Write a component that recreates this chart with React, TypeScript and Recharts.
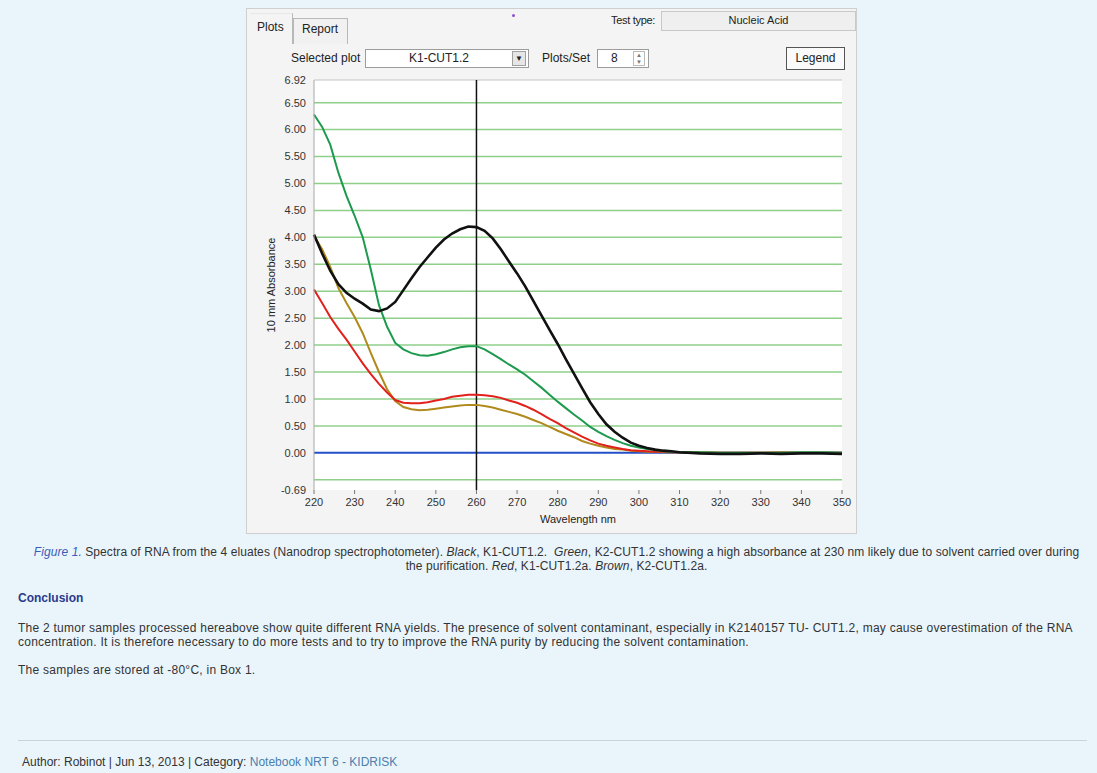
import React from 'react'
import {CartesianGrid, Line, LineChart, ReferenceLine, XAxis, YAxis} from 'recharts'

// Nanodrop spectra, absorbance per wavelength (nm)
const wavelengths = [
    220, 222, 224, 226, 228, 230, 232, 234, 236, 238, 240, 242, 244, 246, 248, 250,
    252, 254, 256, 258, 260, 262, 264, 266, 268, 270, 272, 274, 276, 278, 280, 282,
    284, 286, 288, 290, 292, 294, 296, 298, 300, 302, 304, 306, 308, 310,
    315, 320, 325, 330, 335, 340, 345, 350,
]
const k1Cut = [
    4.05, 3.70, 3.38, 3.13, 2.97, 2.86, 2.77, 2.66, 2.63, 2.68, 2.80, 3.02, 3.24, 3.45, 3.63, 3.81,
    3.96, 4.07, 4.15, 4.20, 4.19, 4.12, 3.98, 3.78, 3.55, 3.33, 3.09, 2.82, 2.55, 2.28, 2.02, 1.74,
    1.47, 1.20, 0.94, 0.72, 0.53, 0.39, 0.28, 0.19, 0.13, 0.09, 0.06, 0.04, 0.03, 0.01,
    -0.01, -0.02, -0.02, -0.01, -0.02, -0.01, -0.01, -0.02,
]
const k2Cut = [
    6.28, 6.05, 5.72, 5.20, 4.77, 4.40, 4.00, 3.40, 2.74, 2.34, 2.04, 1.92, 1.85, 1.81, 1.80, 1.83,
    1.87, 1.92, 1.96, 1.98, 1.98, 1.92, 1.83, 1.74, 1.64, 1.55, 1.45, 1.33, 1.21, 1.08, 0.95, 0.83,
    0.71, 0.60, 0.48, 0.39, 0.31, 0.24, 0.18, 0.13, 0.10, 0.07, 0.05, 0.03, 0.02, 0.01,
    0.01, 0.00, 0.00, 0.00, 0.00, 0.01, 0.01, 0.00,
]
const k1CutA = [
    3.03, 2.78, 2.52, 2.30, 2.10, 1.88, 1.66, 1.46, 1.28, 1.12, 0.98, 0.93, 0.92, 0.92, 0.94, 0.97,
    1.00, 1.04, 1.06, 1.08, 1.08, 1.07, 1.05, 1.02, 0.97, 0.93, 0.87, 0.80, 0.72, 0.63, 0.55, 0.46,
    0.38, 0.30, 0.23, 0.17, 0.13, 0.10, 0.07, 0.05, 0.04, 0.03, 0.02, 0.02, 0.01, 0.01,
    0.00, 0.00, 0.00, 0.00, 0.00, 0.00, 0.00, 0.00,
]
const k2CutA = [
    4.03, 3.78, 3.45, 3.06, 2.78, 2.52, 2.22, 1.85, 1.50, 1.18, 0.96, 0.85, 0.81, 0.79, 0.80, 0.82,
    0.84, 0.86, 0.88, 0.89, 0.89, 0.87, 0.84, 0.80, 0.76, 0.72, 0.67, 0.61, 0.55, 0.48, 0.41, 0.35,
    0.29, 0.22, 0.17, 0.13, 0.10, 0.07, 0.06, 0.04, 0.03, 0.02, 0.02, 0.01, 0.01, 0.01,
    0.01, 0.00, 0.00, 0.00, 0.01, 0.00, 0.00, 0.00,
]

const yTicks = [-0.69, 0, 0.5, 1, 1.5, 2, 2.5, 3, 3.5, 4, 4.5, 5, 5.5, 6, 6.5, 6.92]
const gridLevels = [-0.5, 0.5, 1, 1.5, 2, 2.5, 3, 3.5, 4, 4.5, 5, 5.5, 6, 6.5]
const xTicks = [220, 230, 240, 250, 260, 270, 280, 290, 300, 310, 320, 330, 340, 350]

const data = wavelengths.map((wl, i) => ({
    wl,
    k1: k1Cut[i],
    k2: k2Cut[i],
    k1a: k1CutA[i],
    k2a: k2CutA[i],
}))

const ui = "'Liberation Sans', Arial, sans-serif"
const body = "'Liberation Sans', Arial, sans-serif"

const abs = (left: number, top: number, extra?: React.CSSProperties): React.CSSProperties => ({
    position: 'absolute', left, top, ...extra,
})

const SpectraChart = () => (
    <LineChart width={612} height={470} data={data} margin={{top: 9, right: 16, bottom: 15, left: 0}}>
        <CartesianGrid horizontal={false} vertical={false} fill='#ffffff' stroke='none' />
        <XAxis type='number' dataKey='wl' domain={[220, 350]} ticks={xTicks} height={36}
               axisLine={false} tickLine={{stroke: '#777'}} tickSize={4} tickMargin={4}
               tick={{fill: '#333', fontSize: 11, fontFamily: ui}}
               label={{value: 'Wavelength nm', position: 'insideBottom', offset: 3, fill: '#222', fontSize: 11, fontFamily: ui}} />
        <YAxis type='number' domain={[-0.69, 6.92]} ticks={yTicks} width={68} interval={0}
               axisLine={{stroke: '#a8a8a8'}} tickLine={false}
               tickFormatter={(v: number) => v.toFixed(2)}
               tick={{fill: '#333', fontSize: 11, fontFamily: ui}}
               label={{value: '10 mm Absorbance', angle: -90, position: 'center', dx: -9, fill: '#222', fontSize: 11, fontFamily: ui}} />
        <ReferenceLine y={6.92} stroke='#c4c4c4' />
        {gridLevels.map(v => (
            <ReferenceLine key={v} y={v} stroke='#8fcf8a' strokeWidth={1.5} />
        ))}
        <ReferenceLine y={0} stroke='#2350c8' strokeWidth={2} />
        <ReferenceLine x={260} stroke='#111' strokeWidth={1.5} />
        <Line type='linear' dataKey='k2a' stroke='#b08a1c' strokeWidth={2} dot={false} isAnimationActive={false} />
        <Line type='linear' dataKey='k1a' stroke='#e2201c' strokeWidth={2} dot={false} isAnimationActive={false} />
        <Line type='linear' dataKey='k2' stroke='#1d9a4e' strokeWidth={2} dot={false} isAnimationActive={false} />
        <Line type='linear' dataKey='k1' stroke='#111111' strokeWidth={2.6} dot={false} isAnimationActive={false} />
    </LineChart>
)

const Panel = () => (
    <div style={abs(246, 8, {width: 611, height: 526, background: '#f4f4f4', border: '1px solid #cfcfcf', boxSizing: 'border-box', fontFamily: ui, fontSize: 12, color: '#222'})}>
        {/* tabs */}
        <div style={abs(3, 4, {width: 42, height: 30, borderRight: '1px solid #b8b8b8', borderTop: '1px solid #e8e8e8'})} />
        <div style={abs(10, 11)}>Plots</div>
        <div style={abs(46, 9, {width: 53, height: 25, border: '1px solid #b8b8b8', borderBottom: 'none', background: '#f1f1f1'})} />
        <div style={abs(55, 13)}>Report</div>
        <div style={abs(265, 5, {width: 3, height: 3, borderRadius: 2, background: '#8a4fd0'})} />
        <div style={abs(364, 5, {fontSize: 11, letterSpacing: -0.3})}>Test type:</div>
        <div style={abs(414, 2, {width: 193, height: 18, border: '1px solid #c8c8c8', background: '#efefef', textAlign: 'center', lineHeight: '17px', fontSize: 11})}>Nucleic Acid</div>

        {/* selector row */}
        <div style={abs(44, 42)}>Selected plot</div>
        <div style={abs(118, 40, {width: 164, height: 19, border: '1px solid #9c9c9c', background: '#fff', boxSizing: 'border-box'})}>
            <div style={abs(0, 1, {width: 146, textAlign: 'center'})}>K1-CUT1.2</div>
            <div style={abs(146, 1, {width: 14, height: 15, background: '#e6e6e6', border: '1px solid #a0a0a0', boxSizing: 'border-box', fontSize: 8, textAlign: 'center', lineHeight: '14px'})}>▼</div>
        </div>
        <div style={abs(295, 42)}>Plots/Set</div>
        <div style={abs(350, 40, {width: 52, height: 19, border: '1px solid #9c9c9c', background: '#fff', boxSizing: 'border-box'})}>
            <div style={abs(13, 1)}>8</div>
            <div style={abs(35, 1, {width: 12, height: 15, border: '1px solid #bbb', boxSizing: 'border-box', fontSize: 6, textAlign: 'center', lineHeight: '7px', color: '#777'})}>▲<br />▼</div>
        </div>
        <div style={abs(539, 38, {width: 59, height: 23, border: '1px solid #555', background: '#fafafa', boxSizing: 'border-box', textAlign: 'center', lineHeight: '21px'})}>Legend</div>

        <div style={abs(-1, 62)}>
            <SpectraChart />
        </div>
    </div>
)

const App = () => (
    <div style={abs(0, 0, {width: 1097, height: 773, background: '#eaf5fb', overflow: 'hidden', fontFamily: body})}>
        <Panel />
        <div style={abs(8, 545, {width: 1097, textAlign: 'center', fontSize: 12, letterSpacing: 0.08, lineHeight: '14px', color: '#333'})}>
            <span style={{color: '#3b5cb8', fontStyle: 'italic'}}>Figure 1.</span> Spectra of RNA from the 4 eluates (Nanodrop spectrophotometer). <i>Black</i>, K1-CUT1.2.&nbsp; <i>Green</i>, K2-CUT1.2 showing a high absorbance at 230 nm likely due to solvent carried over during
            <br />the purification. <i>Red</i>, K1-CUT1.2a. <i>Brown</i>, K2-CUT1.2a.
        </div>
        <div style={abs(18, 591, {fontSize: 12, fontWeight: 'bold', color: '#2b3a8c'})}>Conclusion</div>
        <div style={abs(18, 621, {fontSize: 12, letterSpacing: 0.25, lineHeight: '14px', color: '#333'})}>
            The 2 tumor samples processed hereabove show quite different RNA yields. The presence of solvent contaminant, especially in K2140157 TU- CUT1.2, may cause overestimation of the RNA
            <br />concentration. It is therefore necessary to do more tests and to try to improve the RNA purity by reducing the solvent contamination.
        </div>
        <div style={abs(18, 663, {fontSize: 12, letterSpacing: 0.25, color: '#333'})}>The samples are stored at -80°C, in Box 1.</div>
        <div style={abs(18, 740, {width: 1069, height: 1, background: '#c9d3da'})} />
        <div style={abs(22, 755, {fontSize: 12, color: '#333'})}>
            Author: Robinot | Jun 13, 2013 | Category: <span style={{color: '#4a7fae'}}>Notebook NRT 6 - KIDRISK</span>
        </div>
    </div>
)

export default App
